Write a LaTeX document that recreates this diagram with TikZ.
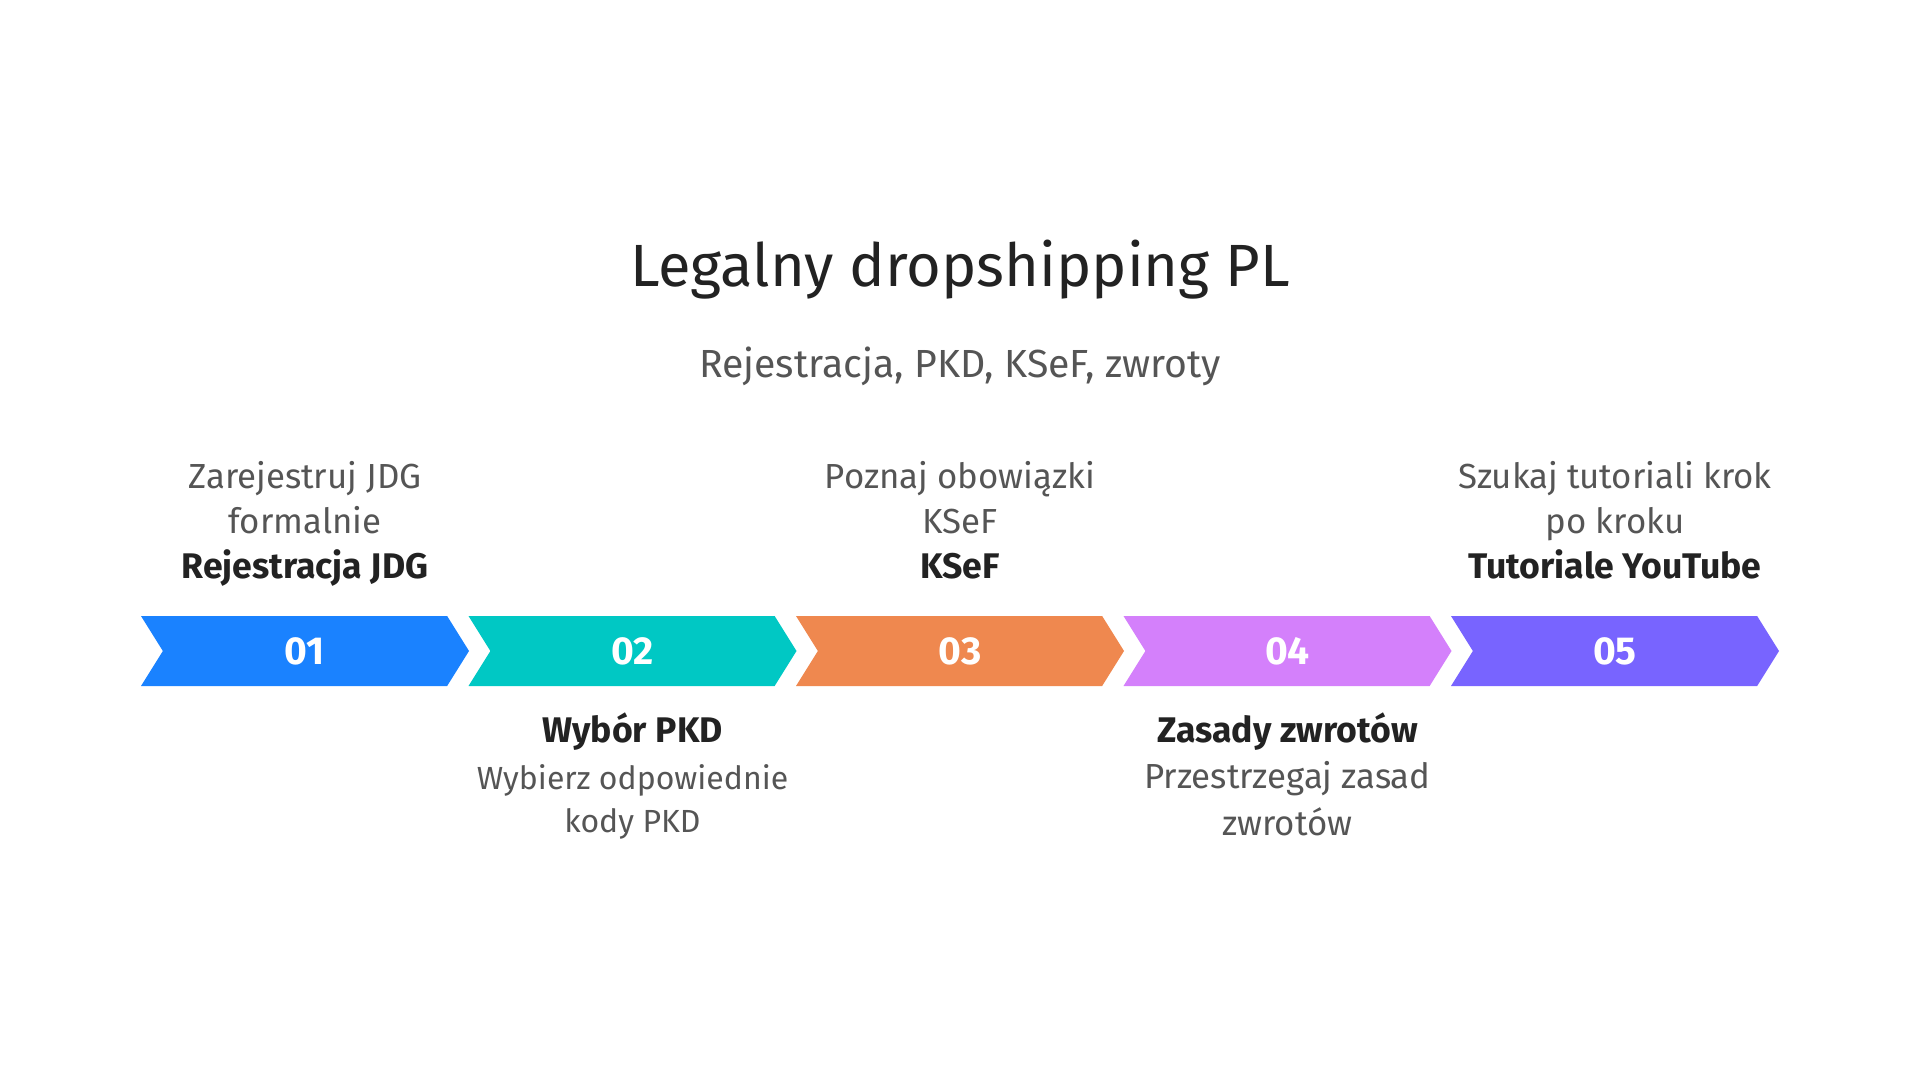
\documentclass[tikz,border=0pt]{standalone}
\usepackage{fontspec}
\setmainfont{Fira Sans}
\usetikzlibrary{shapes.symbols,positioning}
\definecolor{stepblue}{HTML}{1A82FF}
\definecolor{stepteal}{HTML}{00C8C4}
\definecolor{steporange}{HTML}{EF884F}
\definecolor{stepviolet}{HTML}{D480FB}
\definecolor{stepindigo}{HTML}{7864FF}
\definecolor{txtgray}{HTML}{555555}
\definecolor{txtdark}{HTML}{222222}

\begin{document}
\begin{tikzpicture}[x=0.5pt,y=-0.5pt,
chev/.style={signal, signal to=east, signal from=west, signal pointer angle=116,
  minimum width=164pt, minimum height=35pt, inner sep=0pt, text=white,
  font=\fontsize{19.5}{22}\selectfont\bfseries},
desc/.style={align=center, text=txtgray, font=\fontsize{17.4}{22.5}\selectfont,
  execute at begin node=\strut, execute at end node=\strut},
head/.style={anchor=base, text=txtdark, font=\fontsize{17.8}{20}\selectfont\bfseries}
]
\useasboundingbox[fill=white] (0,0) rectangle (1920,1080);
\node[anchor=base, text=txtdark, font=\fontsize{29.8}{34}\selectfont] (title) at (960,287) {Legalny dropshipping PL};
\node[anchor=base, text=txtgray, font=\fontsize{19.6}{23}\selectfont] (sub) at (960,378) {Rejestracja, PKD, KSeF, zwroty};
% chevrons
\node[chev, fill=stepblue]   (s1) at (305,651)    {01};
\node[chev, fill=stepteal]   (s2) at (632.5,651)  {02};
\node[chev, fill=steporange] (s3) at (960,651)    {03};
\node[chev, fill=stepviolet] (s4) at (1287.5,651) {04};
\node[chev, fill=stepindigo] (s5) at (1615,651)   {05};
% labels above
\node[desc] (d1) at (305,504)  {Zarejestruj JDG\\formalnie};
\node[head] (h1) at (305,578)  {Rejestracja JDG};
\node[desc] (d3) at (960,504)  {Poznaj obowiązki\\KSeF};
\node[head] (h3) at (960,578)  {KSeF};
\node[desc] (d5) at (1615,504) {Szukaj tutoriali krok\\po kroku};
\node[head] (h5) at (1615,578) {Tutoriale YouTube};
% labels below
\node[head] (h2) at (632.5,742)  {Wybór PKD};
\node[desc, font=\fontsize{16}{21.5}\selectfont] (d2) at (632.5,805) {Wybierz odpowiednie\\kody PKD};
\node[head] (h4) at (1287.5,742) {Zasady zwrotów};
\node[desc, font=\fontsize{17.4}{23.25}\selectfont] (d4) at (1287.5,805.5) {Przestrzegaj zasad\\zwrotów};
\end{tikzpicture}
\end{document}
